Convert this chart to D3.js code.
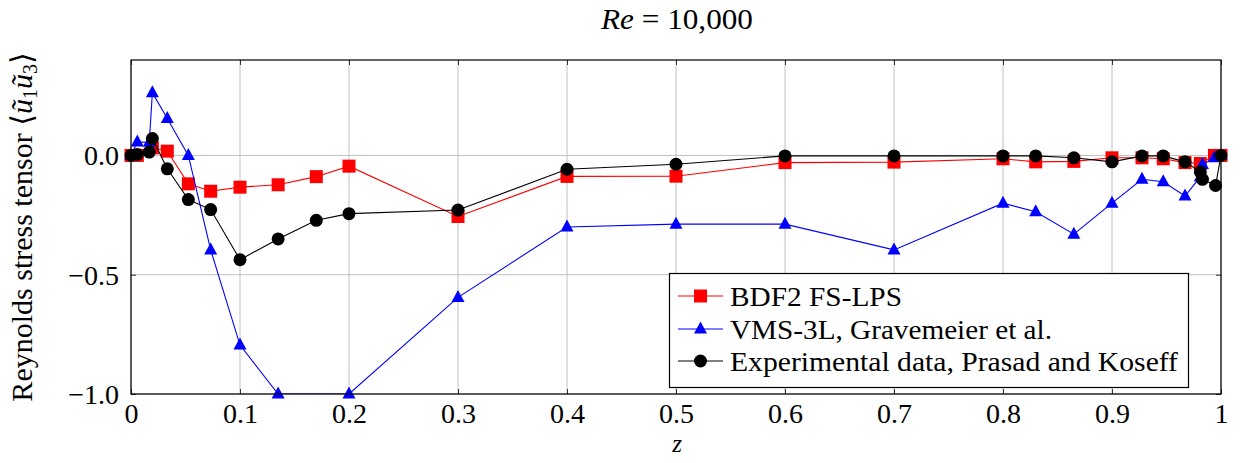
<!DOCTYPE html>
<html>
<head>
<meta charset="utf-8">
<script src="https://cdn.jsdelivr.net/npm/d3@7/dist/d3.min.js"></script>
<style>
  html, body { margin: 0; padding: 0; background: #fff; }
  svg { display: block; }
  text { font-family: "Liberation Serif", "DejaVu Serif", serif; fill: #000; }
</style>
</head>
<body>
<svg id="chart" width="1245" height="463"></svg>
<script>
// ---- data ----
const xTicks = [0, 0.1, 0.2, 0.3, 0.4, 0.5, 0.6, 0.7, 0.8, 0.9, 1];
const xTickLabels = ["0", "0.1", "0.2", "0.3", "0.4", "0.5", "0.6", "0.7", "0.8", "0.9", "1"];
const yTicks = [0, -0.5, -1.0];
const yTickLabels = ["0.0", "\u22120.5", "\u22121.0"];

const seriesNames = ["BDF2 FS-LPS", "VMS-3L, Gravemeier et al.", "Experimental data, Prasad and Koseff"];

const zBDF2 = [0, 0.0058, 0.0196, 0.0333, 0.0526, 0.0731, 0.1, 0.135, 0.170, 0.2, 0.3, 0.4, 0.5, 0.6, 0.7, 0.8, 0.83, 0.865, 0.9, 0.9275, 0.947, 0.967, 0.981, 0.994, 1.0];
const vBDF2 = [0, 0, 0.032, 0.018, -0.119, -0.15, -0.133, -0.123, -0.089, -0.045, -0.256, -0.088, -0.087, -0.03, -0.028, -0.014, -0.027, -0.025, -0.01, -0.01, -0.014, -0.03, -0.034, 0, 0];

const zVMS = [0, 0.0058, 0.0168, 0.0196, 0.0333, 0.0526, 0.0731, 0.1, 0.135, 0.2, 0.3, 0.4, 0.5, 0.6, 0.7, 0.8, 0.83, 0.865, 0.9, 0.9275, 0.947, 0.967, 0.981, 0.983, 0.994, 1.0];
const vVMS = [0, 0.056, 0.055, 0.263, 0.155, 0.0, -0.396, -0.795, -1.0, -1.0, -0.595, -0.30, -0.288, -0.288, -0.396, -0.2, -0.236, -0.33, -0.2, -0.10, -0.11, -0.17, -0.09, -0.038, -0.01, 0];

const zExp = [0, 0.0058, 0.0168, 0.0196, 0.0333, 0.0526, 0.0731, 0.1, 0.135, 0.170, 0.2, 0.3, 0.4, 0.5, 0.6, 0.7, 0.8, 0.83, 0.865, 0.9, 0.9275, 0.947, 0.967, 0.981, 0.983, 0.995, 1.0];
const vExp = [0, 0.004, 0.014, 0.071, -0.056, -0.185, -0.227, -0.437, -0.35, -0.272, -0.244, -0.229, -0.058, -0.037, -0.002, -0.002, -0.002, -0.002, -0.01, -0.027, -0.002, -0.002, -0.027, -0.069, -0.10, -0.126, 0];

// ---- layout ----
const svg = d3.select("#chart");
const L = 131, R = 1221, T = 60, B = 394;
const x = d3.scaleLinear().domain([0, 1]).range([L, R]);
const y = d3.scaleLinear().domain([-1, 0.4]).range([B, T]);
const FONT = "'Liberation Serif', 'DejaVu Serif', serif";

// grid
const g = svg.append("g");
g.selectAll("line.gx").data(xTicks).join("line")
  .attr("x1", d => x(d)).attr("x2", d => x(d)).attr("y1", T).attr("y2", B)
  .attr("stroke", "#c0c0c0").attr("stroke-width", 1);
g.selectAll("line.gy").data(yTicks).join("line")
  .attr("y1", d => y(d)).attr("y2", d => y(d)).attr("x1", L).attr("x2", R)
  .attr("stroke", "#c0c0c0").attr("stroke-width", 1);

// axes with d3 axis generators (ticks inside)
const xAxisB = d3.axisBottom(x).tickValues(xTicks).tickFormat((d, i) => xTickLabels[i]).tickSizeInner(-5).tickSizeOuter(0).tickPadding(12);
const xAxisT = d3.axisTop(x).tickValues(xTicks).tickFormat("").tickSizeInner(-5).tickSizeOuter(0);
const yAxisL = d3.axisLeft(y).tickValues(yTicks).tickFormat((d, i) => yTickLabels[i]).tickSizeInner(-5).tickSizeOuter(0).tickPadding(12);
const yAxisR = d3.axisRight(y).tickValues(yTicks).tickFormat("").tickSizeInner(-5).tickSizeOuter(0);

function styleAxis(sel) {
  sel.attr("font-family", FONT).attr("font-size", 28);
  sel.select(".domain").remove();
  sel.selectAll(".tick line").attr("stroke", "#333").attr("stroke-width", 1);
  sel.selectAll(".tick text").style("font-family", FONT).style("font-size", "28px").attr("fill", "#000");
}
svg.append("g").attr("transform", `translate(0,${B})`).call(xAxisB).call(styleAxis)
  .selectAll(".tick text").attr("dy", "0.62em");
svg.append("g").attr("transform", `translate(0,${T})`).call(xAxisT).call(styleAxis);
svg.append("g").attr("transform", `translate(${L},0)`).call(yAxisL).call(styleAxis)
  .selectAll(".tick text").attr("dy", "0.34em");
svg.append("g").attr("transform", `translate(${R},0)`).call(yAxisR).call(styleAxis);

// clip for lines
svg.append("clipPath").attr("id", "clip").append("rect")
  .attr("x", L).attr("y", T).attr("width", R - L).attr("height", B - T);

const line = d3.line().x(d => x(d[0])).y(d => y(d[1]));
const zip = (a, b) => a.map((v, i) => [v, b[i]]);

const series = [
  { name: seriesNames[0], data: zip(zBDF2, vBDF2), color: "#ff0000", marker: "square" },
  { name: seriesNames[1], data: zip(zVMS, vVMS), color: "#0000ff", marker: "triangle" },
  { name: seriesNames[2], data: zip(zExp, vExp), color: "#000000", marker: "circle" }
];

function drawMarker(sel, type, color) {
  if (type === "square") {
    sel.append("rect").attr("x", -6.5).attr("y", -6.5).attr("width", 13).attr("height", 13).attr("fill", color);
  } else if (type === "triangle") {
    sel.append("path").attr("d", "M0,-7.5 L6.5,4.5 L-6.5,4.5 Z").attr("fill", color);
  } else {
    sel.append("circle").attr("r", 6.5).attr("fill", color);
  }
}

series.forEach(s => {
  svg.append("path").datum(s.data).attr("d", line)
    .attr("fill", "none").attr("stroke", s.color).attr("stroke-width", 1.1)
    .attr("clip-path", "url(#clip)");
  svg.append("g").selectAll("g").data(s.data).join("g")
    .attr("transform", d => `translate(${x(d[0])},${y(d[1])})`)
    .each(function () { drawMarker(d3.select(this), s.marker, s.color); });
});

// frame
svg.append("rect").attr("x", L).attr("y", T).attr("width", R - L).attr("height", B - T)
  .attr("fill", "none").attr("stroke", "#000").attr("stroke-width", 1.2);

// legend
const lg = svg.append("g");
lg.append("rect").attr("x", 669.5).attr("y", 273.5).attr("width", 519).attr("height", 114)
  .attr("fill", "#fff").attr("stroke", "#000").attr("stroke-width", 1.2);
const rowY = [296, 329, 361];
const textLens = [172, 322, 448];
series.forEach((s, i) => {
  lg.append("line").attr("x1", 678).attr("x2", 723).attr("y1", rowY[i]).attr("y2", rowY[i])
    .attr("stroke", s.color).attr("stroke-width", 1.1);
  const m = lg.append("g").attr("transform", `translate(700.5,${rowY[i]})`);
  drawMarker(m, s.marker, s.color);
  lg.append("text").attr("x", 730).attr("y", rowY[i] + 9.5)
    .attr("textLength", textLens[i]).attr("lengthAdjust", "spacingAndGlyphs")
    .style("font-size", "27px").text(s.name);
});

// title
const title = svg.append("text").attr("x", 677).attr("y", 29).attr("text-anchor", "middle")
  .attr("textLength", 152).attr("lengthAdjust", "spacingAndGlyphs").style("font-size", "29px");
title.append("tspan").style("font-style", "italic").text("Re");
title.append("tspan").text(" = 10,000");

// x label
svg.append("text").attr("x", 677).attr("y", 452).attr("text-anchor", "middle")
  .style("font-size", "25px").style("font-style", "italic").text("z");

// y label
const yl = svg.append("text").attr("transform", "translate(32,227) rotate(-90)")
  .attr("text-anchor", "middle").style("font-size", "30px");
yl.append("tspan").text("Reynolds stress tensor \u27E8");
yl.append("tspan").style("font-style", "italic").text("\u0169");
yl.append("tspan").attr("dy", 5).style("font-size", "20px").text("1");
yl.append("tspan").attr("dy", -5).style("font-style", "italic").text("\u0169");
yl.append("tspan").attr("dy", 5).style("font-size", "20px").text("3");
yl.append("tspan").attr("dy", -5).text("\u27E9");
</script>
</body>
</html>
